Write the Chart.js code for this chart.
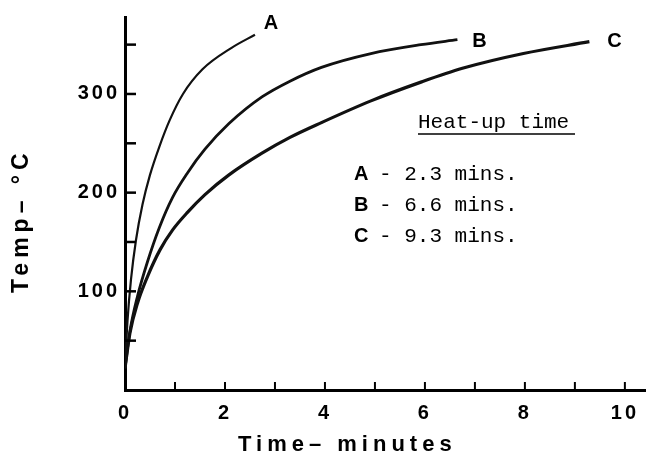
<!DOCTYPE html>
<html>
<head>
<meta charset="utf-8">
<script src="https://cdn.jsdelivr.net/npm/chart.js@4"></script>
<style>
    html, body { margin: 0; padding: 0; background: #fff; }
    #wrap { width: 650px; height: 457px; position: relative; }
</style>
</head>
<body>
<div id="wrap"><canvas id="heatChart"></canvas></div>
<script>
// curves (time in minutes, temperature in deg C)
const curveLabels = ['A', 'B', 'C'];
const heatUpMins = ['2.3', '6.6', '9.3'];

const timeA = [0, 0.05, 0.12, 0.22, 0.35, 0.5, 0.69, 0.89, 1.16, 1.55, 2.14, 2.6];
const tempA = [22, 70, 112, 152, 188, 218, 247, 273, 300, 325, 347, 360];

const timeB = [0, 0.1, 0.25, 0.45, 0.69, 0.95, 1.25, 1.6, 2.08, 2.74, 3.3, 3.93, 4.92, 5.92, 6.65];
const tempB = [22, 60, 95, 130, 165, 195, 220, 244, 270, 297, 313, 327, 341, 350, 355];

const timeC = [0, 0.1, 0.25, 0.45, 0.7, 0.95, 1.25, 1.6, 2.08, 2.74, 3.3, 3.93, 4.92, 5.92, 6.75, 7.97, 9.29];
const tempC = [22, 58, 88, 115, 142, 162, 180, 198, 218, 240, 256, 271, 293, 312, 326, 341, 353];

function toPoints(xs, ys) {
    return xs.map(function (x, i) { return { x: x, y: ys[i] }; });
}

const sans = 'Liberation Sans, Arial, sans-serif';
const mono = 'Liberation Mono, Courier New, monospace';

// spaced-out lettering for the tick numbers
const spacing = {
    id: 'spacing',
    beforeUpdate(chart) { chart.ctx.letterSpacing = '3px'; },
    beforeDraw(chart) { chart.ctx.letterSpacing = '3px'; }
};

// small inward tick marks
const tickMarks = {
    id: 'tickMarks',
    afterDraw(chart) {
        const ctx = chart.ctx;
        const area = chart.chartArea;
        const x = chart.scales.x, y = chart.scales.y;
        ctx.save();
        ctx.strokeStyle = '#000';
        ctx.lineWidth = 2;
        x.ticks.forEach(function (t) {
            if (t.value === 0) return;
            const px = x.getPixelForValue(t.value);
            ctx.beginPath();
            ctx.moveTo(px, area.bottom);
            ctx.lineTo(px, area.bottom - 8);
            ctx.stroke();
        });
        ctx.lineWidth = 2.5;
        y.ticks.forEach(function (t) {
            if (t.value === 0) return;
            const py = y.getPixelForValue(t.value);
            ctx.beginPath();
            ctx.moveTo(area.left, py);
            ctx.lineTo(area.left + 11, py);
            ctx.stroke();
        });
        ctx.restore();
    }
};

// axis titles, curve letters and the heat-up table
const notes = {
    id: 'notes',
    afterDraw(chart) {
        const ctx = chart.ctx;
        ctx.save();
        ctx.fillStyle = '#000';
        ctx.textBaseline = 'middle';

        ctx.letterSpacing = '5px';
        ctx.font = 'bold 22px ' + sans;
        ctx.textAlign = 'left';
        ctx.fillText('Time\u2013 minutes', 238, 445);

        ctx.save();
        ctx.translate(22, 293);
        ctx.rotate(-Math.PI / 2);
        ctx.font = 'bold 23px ' + sans;
        ctx.fillText('Temp\u2013 \u00B0C', 0, 0);
        ctx.restore();

        // letters at curve ends
        const offs = [[16, -11], [22, 2], [25, 0]];
        ctx.letterSpacing = '0px';
        ctx.font = 'bold 20px ' + sans;
        ctx.textAlign = 'center';
        curveLabels.forEach(function (lab, i) {
            const pts = chart.getDatasetMeta(i).data;
            const last = pts[pts.length - 1];
            ctx.fillText(lab, last.x + offs[i][0], last.y + offs[i][1]);
        });

        // heat-up table
        ctx.textAlign = 'left';
        ctx.font = '21px ' + mono;
        ctx.fillText('Heat-up time', 418, 122);
        ctx.strokeStyle = '#000';
        ctx.lineWidth = 1.5;
        ctx.beginPath();
        ctx.moveTo(418, 134);
        ctx.lineTo(575, 134);
        ctx.stroke();

        const rows = [174, 205, 236];
        curveLabels.forEach(function (lab, i) {
            ctx.font = 'bold 20px ' + sans;
            ctx.fillText(lab, 354, rows[i]);
            ctx.font = '21px ' + mono;
            ctx.fillText('- ' + heatUpMins[i] + ' mins.', 379, rows[i]);
        });
        ctx.restore();
    }
};

const tickFont = { family: sans, weight: 'bold', size: 20 };

function lineSet(xs, ys, width) {
    return {
        data: toPoints(xs, ys),
        borderColor: '#111',
        borderWidth: width,
        pointRadius: 0,
        fill: false,
        cubicInterpolationMode: 'monotone'
    };
}

new Chart(document.getElementById('heatChart'), {
    type: 'line',
    data: {
        datasets: [
            lineSet(timeA, tempA, 2.2),
            lineSet(timeB, tempB, 2.8),
            lineSet(timeC, tempC, 3.2)
        ]
    },
    options: {
        responsive: true,
        maintainAspectRatio: false,
        animation: false,
        layout: { padding: { top: 12, right: 0, left: 0, bottom: 0 } },
        plugins: {
            legend: { display: false },
            tooltip: { enabled: false }
        },
        scales: {
            x: {
                type: 'linear',
                min: 0,
                max: 10.42,
                grid: { display: false, drawTicks: false },
                border: { display: true, width: 3, color: '#000' },
                ticks: {
                    stepSize: 1,
                    includeBounds: false,
                    autoSkip: false,
                    maxRotation: 0,
                    padding: 11,
                    color: '#000',
                    font: tickFont,
                    callback: function (v) { return v % 2 === 0 ? v : ''; }
                },
                afterFit: function (s) { s.height = 67; }
            },
            y: {
                min: 0,
                max: 378,
                grid: { display: false, drawTicks: false },
                border: { display: true, width: 3, color: '#000' },
                ticks: {
                    stepSize: 50,
                    includeBounds: false,
                    padding: 5,
                    color: '#000',
                    font: tickFont,
                    callback: function (v) { return (v % 100 === 0 && v > 0) ? v : ''; }
                },
                afterFit: function (s) { s.width = 125; }
            }
        }
    },
    plugins: [spacing, tickMarks, notes]
});
</script>
</body>
</html>
